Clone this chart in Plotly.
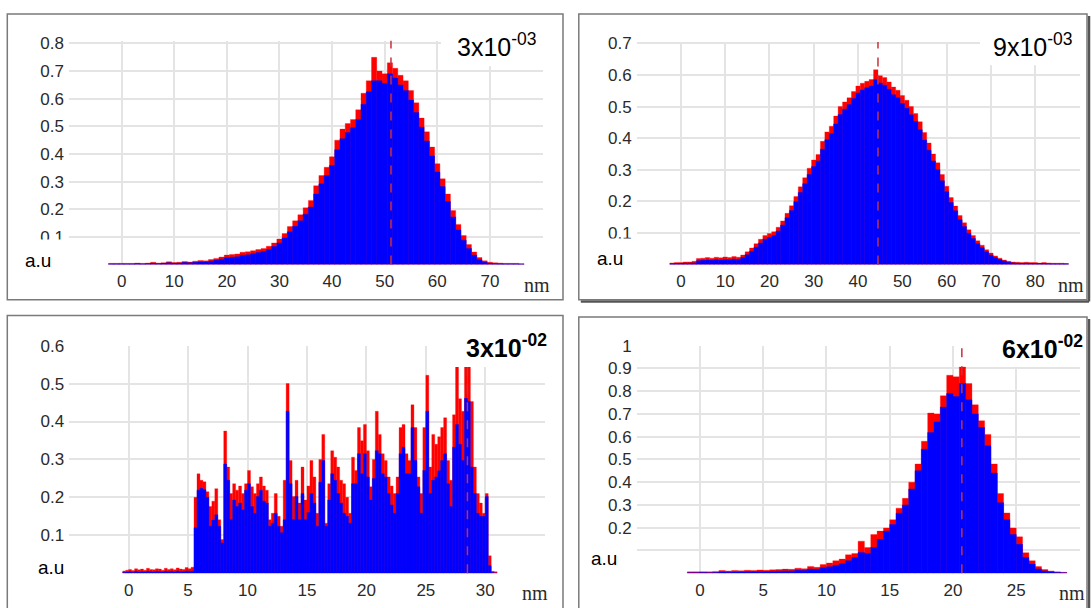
import plotly.graph_objects as go

W, H = 1091, 608

# ---------------- data ----------------
# Panel 1 : 3x10^-03  (bin centres start at -2 nm, 1 nm bins)
p1_title = "3x10<sup>-03</sup>"
p1_start, p1_step = -2, 1
p1_red = [.004, .004, .004, .004, .004, .005, .004, .005, .008, .005,
          .006, .010, .007, .008, .011, .009, .012, .014, .013, .018,
          .022, .027, .034, .036, .038, .044, .046, .050, .054, .058,
          .066, .078, .092, .112, .137, .158, .180, .205, .232, .285,
          .322, .352, .390, .450, .490, .510, .525, .560, .620, .665,
          .750, .700, .690, .730, .710, .685, .665, .630, .585, .530,
          .480, .425, .365, .310, .255, .195, .145, .105, .072, .045,
          .025, .013, .008, .006, .005, .004, .004, .004, .003]
p1_blue = [.002, .002, .002, .002, .002, .003, .002, .003, .004, .003,
           .004, .006, .004, .005, .007, .006, .008, .009, .009, .012,
           .015, .019, .024, .026, .028, .033, .035, .039, .043, .047,
           .054, .065, .078, .096, .118, .138, .158, .182, .208, .255,
           .292, .322, .358, .415, .455, .478, .495, .525, .580, .625,
           .665, .665, .655, .690, .675, .650, .630, .595, .550, .497,
           .447, .393, .335, .282, .228, .172, .125, .088, .058, .034,
           .017, .008, .004, .003, .002, .002, .002, .002, .002]
p1_mean = 51.2
p1_xticks = [0, 10, 20, 30, 40, 50, 60, 70]
p1_xgrid_extra = [-10, 80]
p1_yticks = [0.1, 0.2, 0.3, 0.4, 0.5, 0.6, 0.7, 0.8]
p1_ygrid_extra = [0]

# Panel 2 : 9x10^-03  (bin centres start at -2 nm, 1 nm bins)
p2_title = "9x10<sup>-03</sup>"
p2_start, p2_step = -2, 1
p2_red = [.005, .006, .006, .008, .008, .010, .019, .020, .022, .020,
          .023, .021, .024, .022, .025, .023, .030, .040, .052, .066,
          .080, .092, .098, .104, .118, .138, .162, .186, .215, .246,
          .275, .305, .331, .348, .390, .420, .438, .470, .500, .515,
          .528, .548, .565, .574, .580, .586, .617, .598, .592, .578,
          .562, .552, .535, .520, .500, .478, .452, .418, .385, .350,
          .322, .285, .248, .212, .185, .155, .132, .110, .092, .075,
          .061, .047, .036, .027, .020, .014, .010, .008, .007, .006,
          .007, .006, .006, .005, .006, .005, .004, .004, .004, .003]
p2_blue = [.002, .003, .003, .004, .004, .005, .012, .013, .014, .013,
           .015, .014, .016, .015, .017, .016, .022, .031, .042, .055,
           .068, .080, .086, .092, .106, .125, .148, .171, .199, .228,
           .256, .285, .310, .328, .365, .395, .415, .445, .475, .492,
           .507, .526, .543, .553, .560, .565, .585, .575, .568, .555,
           .538, .528, .510, .495, .474, .453, .427, .394, .362, .328,
           .300, .265, .230, .196, .170, .142, .120, .099, .082, .066,
           .053, .040, .030, .022, .016, .011, .007, .005, .004, .003,
           .004, .003, .003, .003, .003, .002, .002, .002, .002, .002]
p2_mean = 44.5
p2_xticks = [0, 10, 20, 30, 40, 50, 60, 70, 80]
p2_xgrid_extra = [-10, 90]
p2_yticks = [0.1, 0.2, 0.3, 0.4, 0.5, 0.6, 0.7]
p2_ygrid_extra = [0]

# Panel 3 : 3x10^-02  (bin centres start at -0.375 nm, 0.25 nm bins)
p3_title = "<b>3x10<sup>-02</sup></b>"
p3_start, p3_step = -0.375, 0.25
p3_red = [.006, .008, .010, .007, .012, .009, .011, .008, .013, .010, .009, .012,
          .011, .008, .013, .010, .012, .009, .014, .011, .010, .015, .012, .016,
          .200, .262, .245, .241, .215, .176, .190, .223, .141, .089,
          .375, .280, .210, .236, .219, .230, .210, .236, .271, .228,
          .210, .236, .254, .230, .219, .141, .158, .210, .150, .124,
          .245, .500, .297, .202, .245, .185, .280, .193, .230, .297,
          .254, .158, .300, .366, .132, .236, .323, .306, .280, .245,
          .236, .200, .158, .306, .271, .384, .349, .392, .323, .228,
          .300, .427, .366, .315, .297, .254, .230, .210, .254, .384,
          .392, .315, .297, .444, .384, .254, .210, .384, .522, .280,
          .366, .340, .360, .384, .410, .297, .245, .418, .580, .460,
          .427, .600, .570, .453, .280, .210, .185, .158, .210, .046,
          .005, .004]
p3_blue = [.002, .003, .004, .002, .005, .003, .004, .003, .005, .004, .003, .005,
           .004, .003, .005, .004, .005, .003, .006, .004, .004, .006, .005, .006,
           .120, .219, .224, .220, .200, .124, .140, .154, .124, .080,
           .288, .245, .141, .193, .176, .185, .167, .219, .236, .176,
           .158, .202, .219, .190, .185, .124, .132, .158, .124, .107,
           .141, .427, .236, .141, .202, .141, .210, .141, .160, .210,
           .185, .124, .240, .297, .124, .193, .262, .245, .210, .185,
           .158, .150, .132, .236, .236, .315, .262, .315, .254, .193,
           .250, .323, .315, .262, .254, .210, .180, .158, .210, .315,
           .332, .262, .262, .384, .297, .228, .158, .271, .427, .210,
           .245, .254, .270, .297, .315, .236, .176, .332, .392, .340,
           .297, .461, .453, .280, .210, .158, .150, .150, .202, .020,
           .002, .000]
p3_mean = 28.5
p3_xticks = [0, 5, 10, 15, 20, 25, 30]
p3_xgrid_extra = [-5, 35]
p3_yticks = [0.1, 0.2, 0.3, 0.4, 0.5, 0.6]
p3_ygrid_extra = [0]

# Panel 4 : 6x10^-02  (bin centres start at -0.75 nm, 0.5 nm bins)
p4_title = "<b>6x10<sup>-02</sup></b>"
p4_start, p4_step = -0.75, 0.5
p4_red = [.006, .006, .007, .006, .008, .012, .010, .012, .011, .013,
          .012, .014, .013, .015, .016, .018, .017, .022, .020, .030,
          .026, .038, .045, .055, .062, .081, .087, .141, .113, .170,
          .185, .199, .235, .286, .329, .400, .480, .580, .704, .700,
          .780, .870, .863, .906, .834, .740, .670, .610, .480, .350,
          .265, .199, .160, .090, .055, .029, .016, .010, .006, .004]
p4_blue = [.002, .002, .003, .002, .003, .005, .004, .005, .005, .006,
           .006, .007, .007, .008, .009, .010, .010, .013, .012, .018,
           .017, .024, .028, .035, .042, .055, .069, .091, .087, .113,
           .149, .185, .214, .264, .300, .370, .450, .545, .618, .665,
           .730, .790, .776, .834, .762, .700, .640, .560, .440, .310,
           .235, .170, .127, .069, .040, .019, .010, .005, .003, .002]
p4_mean = 20.7
p4_xticks = [0, 5, 10, 15, 20, 25]
p4_xgrid_extra = [-5, 30]
p4_yticks = [0.2, 0.3, 0.4, 0.5, 0.6, 0.7, 0.8, 0.9, 1.0]
p4_ygrid_extra = [0, 0.1]

# ---------------- layout helpers (pixel geometry) ----------------
def fx(p):
    return p / W


def fy(p):
    return 1 - p / H


def ylab(v):
    return "1" if v == 1 else f"{v:.1f}"


TICK_FONT = dict(family="Liberation Sans, Arial, Helvetica, sans-serif", size=17, color="#2a2a2a")
SANS = "Liberation Sans, Arial, Helvetica, sans-serif"
GRID = "#e4e4e4"

panels = [
    dict(red=p1_red, blue=p1_blue, start=p1_start, step=p1_step, mean=p1_mean,
         xt=p1_xticks, xg=p1_xgrid_extra, yt=p1_yticks, yg=p1_ygrid_extra,
         xr=[-10, 80], yr=[0, 0.81], xd=(69, 542.5), yd=(259.3, 32.2),
         title=p1_title, title_xy=(455, 37), tbox=(441, 14, 547, 58),
         au_xy=(38, 255), aubox=(9, 234, 69, 290), nm_xy=(537, 280),
         border=(7.3, 5, 563, 295), shadow=False),
    dict(red=p2_red, blue=p2_blue, start=p2_start, step=p2_step, mean=p2_mean,
         xt=p2_xticks, xg=p2_xgrid_extra, yt=p2_yticks, yg=p2_ygrid_extra,
         xr=[-10, 90], yr=[0, 0.705], xd=(636.6, 1079.5), yd=(259.3, 33.4),
         title=p2_title, title_xy=(991, 37), tbox=(980, 18, 1082, 57),
         au_xy=(610, 253), aubox=(581, 233, 644, 270), nm_xy=(1071, 280),
         border=(578.8, 5, 1087, 295), shadow=True),
    dict(red=p3_red, blue=p3_blue, start=p3_start, step=p3_step, mean=p3_mean,
         xt=p3_xticks, xg=p3_xgrid_extra, yt=p3_yticks, yg=p3_ygrid_extra,
         xr=[-5, 35], yr=[0, 0.6], xd=(69.2, 544.7), yd=(572.7, 341.7),
         title=p3_title, title_xy=(464, 342), tbox=(452, 318, 560, 363.3),
         au_xy=(51, 567), aubox=(9, 540, 84, 583), nm_xy=(535, 593),
         border=(7.3, 311, 563, 612), shadow=False),
    dict(red=p4_red, blue=p4_blue, start=p4_start, step=p4_step, mean=p4_mean,
         xt=p4_xticks, xg=p4_xgrid_extra, yt=p4_yticks, yg=p4_ygrid_extra,
         xr=[-5, 30], yr=[0, 1.0], xd=(636.7, 1079.5), yd=(572.7, 341.7),
         title=p4_title, title_xy=(1000, 343), tbox=(992, 318, 1085, 363),
         au_xy=(604, 558), aubox=(580, 540, 637, 575), nm_xy=(1072, 593),
         border=(578.8, 312.7, 1087, 612), shadow=True),
]

fig = go.Figure()
shapes = []
annotations = []
layout_axes = {}

for i, p in enumerate(panels, start=1):
    sfx = "" if i == 1 else str(i)
    xa, ya = "x" + sfx, "y" + sfx
    fig.add_trace(go.Bar(y=p["red"], x0=p["start"], dx=p["step"], width=p["step"],
                         marker=dict(color="#ff0000", line=dict(color="#ff0000", width=0.3)),
                         xaxis=xa, yaxis=ya, hoverinfo="skip"))
    fig.add_trace(go.Bar(y=p["blue"], x0=p["start"], dx=p["step"], width=p["step"],
                         marker=dict(color="#0000ff", line=dict(color="#0000ff", width=0.4)),
                         xaxis=xa, yaxis=ya, hoverinfo="skip"))

    layout_axes["xaxis" + sfx] = dict(
        domain=[fx(p["xd"][0]), fx(p["xd"][1])], range=p["xr"], anchor=ya,
        tickmode="array", tickvals=p["xt"], ticktext=[str(v) for v in p["xt"]],
        showgrid=True, gridcolor=GRID, gridwidth=2, zeroline=False,
        minor=dict(tickvals=p["xg"], showgrid=True, gridcolor=GRID, gridwidth=2, ticks=""),
        showline=False, ticks="", tickfont=TICK_FONT, ticklabelstandoff=5)
    layout_axes["yaxis" + sfx] = dict(
        domain=[fy(p["yd"][0]), fy(p["yd"][1])], range=p["yr"], anchor=xa,
        tickmode="array", tickvals=p["yt"], ticktext=[ylab(v) for v in p["yt"]],
        showgrid=True, gridcolor=GRID, gridwidth=2, zeroline=False,
        minor=dict(tickvals=p["yg"], showgrid=True, gridcolor=GRID, gridwidth=2, ticks=""),
        showline=False, ticks="", tickfont=TICK_FONT, ticklabelstandoff=4)

    # dashed marker line at the distribution mean
    shapes.append(dict(type="line", xref=xa, yref=ya + " domain", x0=p["mean"], x1=p["mean"],
                       y0=0, y1=1, layer="above",
                       line=dict(color="#c8323c", width=1.5, dash="dash")))
    # white boxes for title and "a.u"
    for bx in (p["tbox"], p["aubox"]):
        shapes.append(dict(type="rect", xref="paper", yref="paper",
                           x0=fx(bx[0]), x1=fx(bx[2]), y0=fy(bx[3]), y1=fy(bx[1]),
                           fillcolor="white", line=dict(width=0), layer="above"))
    # panel border (with a drop shadow on the right-hand panels)
    b = p["border"]
    if p["shadow"]:
        shapes.append(dict(type="line", xref="paper", yref="paper",
                           x0=fx(b[0] + 2), x1=fx(b[2] + 2), y0=fy(b[3] + 2), y1=fy(b[3] + 2),
                           line=dict(color="#555555", width=2.5), layer="above"))
        shapes.append(dict(type="line", xref="paper", yref="paper",
                           x0=fx(b[2] + 2), x1=fx(b[2] + 2), y0=fy(b[1] + 2), y1=fy(b[3] + 2),
                           line=dict(color="#555555", width=2.5), layer="above"))
    shapes.append(dict(type="rect", xref="paper", yref="paper",
                       x0=fx(b[0]), x1=fx(b[2]), y0=fy(b[3]), y1=fy(b[1]),
                       fillcolor="rgba(0,0,0,0)", line=dict(color="#7a7a7a", width=1.5),
                       layer="above"))

    annotations.append(dict(text=p["title"], xref="paper", yref="paper",
                            x=fx(p["title_xy"][0]), y=fy(p["title_xy"][1]),
                            xanchor="left", yanchor="middle", showarrow=False,
                            font=dict(family=SANS, size=25, color="black")))
    annotations.append(dict(text="a.u", xref="paper", yref="paper",
                            x=fx(p["au_xy"][0]), y=fy(p["au_xy"][1]),
                            xanchor="center", yanchor="middle", showarrow=False,
                            font=dict(family=SANS, size=19, color="black")))
    annotations.append(dict(text="nm", xref="paper", yref="paper",
                            x=fx(p["nm_xy"][0]), y=fy(p["nm_xy"][1]),
                            xanchor="center", yanchor="middle", showarrow=False,
                            font=dict(family="Liberation Serif, Times New Roman, serif",
                                      size=20, color="#2a2a2a")))

fig.update_layout(width=W, height=H, margin=dict(l=0, r=0, t=0, b=0),
                  paper_bgcolor="white", plot_bgcolor="white",
                  showlegend=False, barmode="overlay", bargap=0,
                  shapes=shapes, annotations=annotations, **layout_axes)

fig.write_html("out.html",
               config={"displayModeBar": False, "staticPlot": True},
               post_script="document.body.style.margin='0px';document.body.style.padding='0px';")
